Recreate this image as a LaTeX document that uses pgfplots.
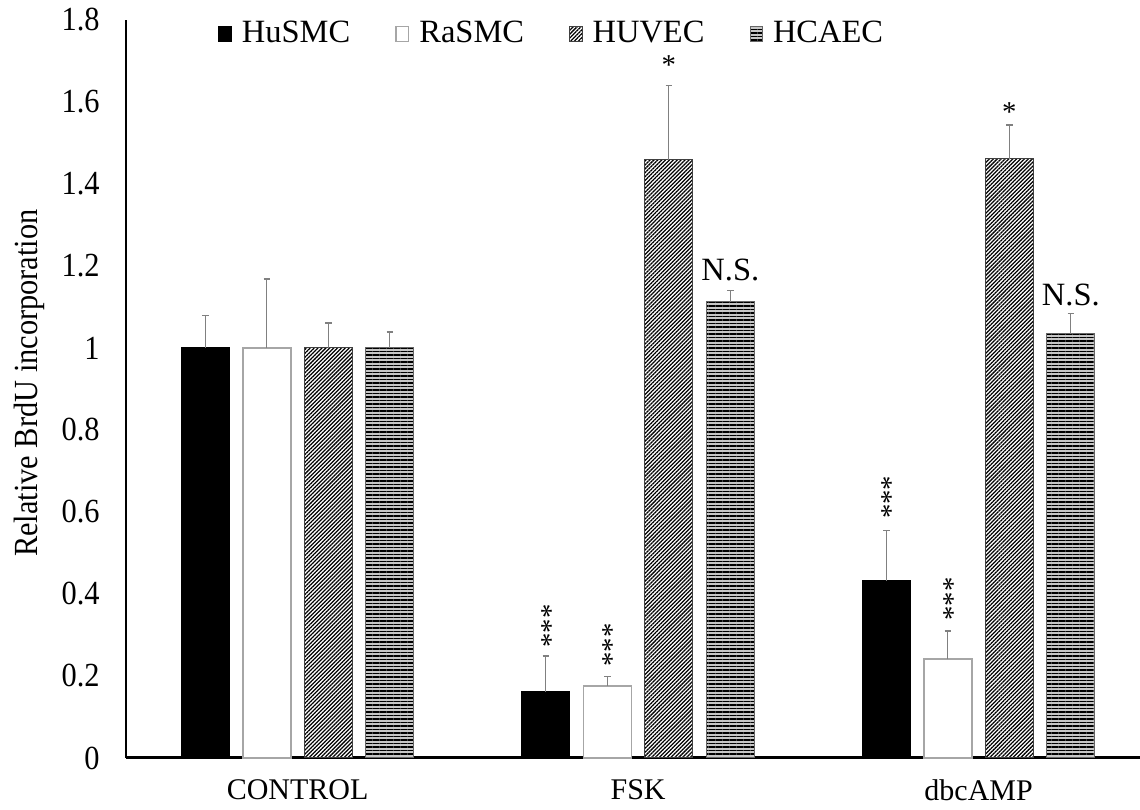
\documentclass[border=0pt]{standalone}
\usepackage{pgfplots}
\pgfplotsset{compat=1.18}
\usetikzlibrary{patterns.meta}
\usepackage{fontspec}
\setmainfont{Liberation Serif}
\newfontfamily\condfont[FakeStretch=0.9]{Liberation Serif}

\begin{document}
\begin{tikzpicture}
\begin{axis}[
  name=ax,
  scale only axis,
  width=405.6pt, height=295.2pt,
  xmin=-0.504, xmax=2.474,
  ymin=0, ymax=1.8,
  axis x line=bottom, axis y line=left,
  axis line style={-},
  x axis line style={line width=1.2pt},
  y axis line style={line width=0.7pt},
  xtick={0,1,2}, xticklabels={CONTROL,FSK,dbcAMP},
  ytick={0,0.2,0.4,0.6,0.8,1,1.2,1.4,1.6,1.8},
  major tick length=0pt,
  tick style={draw=none},
  /pgf/number format/assume math mode=true,
  yticklabel style={font=\condfont\fontsize{13.5}{15}\selectfont, xshift=-7pt},
  xticklabel style={font=\fontsize{12}{14}\selectfont, yshift=-5pt},
  ylabel={Relative BrdU incorporation},
  ylabel style={font=\condfont\fontsize{13.5}{15}\selectfont, at={(rel axis cs:-0.0957,0.508)}, anchor=center},
  legend columns=4,
  legend style={at={(rel axis cs:0.0907,0.981)}, anchor=west, draw=none, fill=none, inner sep=0pt,
    font=\fontsize{13}{15}\selectfont,
    /tikz/every even column/.append style={column sep=16pt},
    /tikz/every odd column/.append style={column sep=2pt}},
  legend image code/.code={\draw[#1] (0pt,-3pt) rectangle (5pt,3pt);},
  error bars/y dir=plus, error bars/y explicit,
  error bars/error bar style={gray, line width=0.5pt},
  error bars/error mark options={gray, line width=0.5pt, mark size=1.3pt, rotate=90},
  clip=false,
]
% bars placed directly at their x positions (group centre 0,1,2 plus offsets -0.2709,-0.0903,0.0903,0.2709)
\addplot[ybar, bar width=0.141, bar shift=0, fill=black, draw=black]
  coordinates {(-0.2709,1.0) +- (0,0.080) (0.7291,0.161) +- (0,0.088) (1.7291,0.432) +- (0,0.122)};
\addplot[ybar, bar width=0.141, bar shift=0, fill=white, draw=gray!70, line width=0.6pt]
  coordinates {(-0.0903,1.0) +- (0,0.168) (0.9097,0.176) +- (0,0.022) (1.9097,0.241) +- (0,0.069)};
\addplot[ybar, bar width=0.141, bar shift=0, fill=white, draw=black!75,
  postaction={pattern={Lines[angle=45,distance=1.1pt,line width=0.5pt]}}]
  coordinates {(0.0903,1.0) +- (0,0.061) (1.0903,1.459) +- (0,0.182) (2.0903,1.462) +- (0,0.082)};
\addplot[ybar, bar width=0.141, bar shift=0, fill=gray!45, draw=black!60,
  postaction={pattern={Lines[angle=0,distance=1.4pt,line width=0.5pt]}}]
  coordinates {(0.2709,1.0) +- (0,0.039) (1.2709,1.113) +- (0,0.027) (2.2709,1.035) +- (0,0.050)};
\legend{HuSMC,RaSMC,HUVEC,HCAEC}

\node[font=\fontsize{11.5}{13}\selectfont, rotate=90, inner sep=0pt] at (axis cs:0.7431,0.322) {***};
\node[font=\fontsize{11.5}{13}\selectfont, rotate=90, inner sep=0pt] at (axis cs:0.9237,0.276) {***};
\node[font=\fontsize{11.5}{13}\selectfont, rotate=90, inner sep=0pt] at (axis cs:1.7431,0.636) {***};
\node[font=\fontsize{11.5}{13}\selectfont, rotate=90, inner sep=0pt] at (axis cs:1.9237,0.388) {***};
\node[font=\fontsize{11.5}{13}\selectfont, inner sep=0pt] at (axis cs:1.0903,1.690) {*};
\node[font=\fontsize{11.5}{13}\selectfont, inner sep=0pt] at (axis cs:2.0903,1.575) {*};
\node[font=\fontsize{13}{15}\selectfont, inner sep=0pt] at (axis cs:1.2709,1.190) {N.S.};
\node[font=\fontsize{13}{15}\selectfont, inner sep=0pt] at (axis cs:2.2709,1.130) {N.S.};
\end{axis}
\pgfresetboundingbox
\path ([shift={(-50.4pt,-20.8pt)}]ax.south west) rectangle ([shift={(0pt,8pt)}]ax.north east);
\end{tikzpicture}
\end{document}
